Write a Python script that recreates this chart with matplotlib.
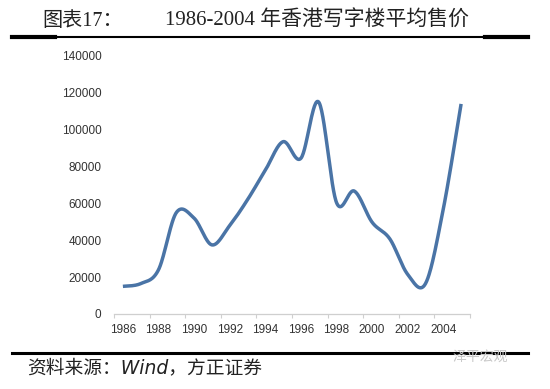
import numpy as np
import matplotlib
matplotlib.use("Agg")
import matplotlib.pyplot as plt

# 香港写字楼平均售价
years = list(range(1986, 2006))
prices = [15000, 16500, 24000, 55000, 52000, 37500, 48000, 62000, 78000, 93500,
          84500, 115000, 60500, 66700, 49800, 40700, 21500, 16500, 57000, 114000]
tick_labels = [str(y) for y in range(1986, 2005, 2)]
y_ticks = list(range(0, 140001, 20000))

title_left = "图表17："
title_main = "1986-2004 年香港写字楼平均售价"
source = "资料来源：Wind，方正证券"
watermark = "泽平宏观"


def smooth(xs, ys, n=30):
    # Excel-style smoothed line (Catmull-Rom through the points)
    xs = np.asarray(xs, float)
    ys = np.asarray(ys, float)
    px = np.concatenate([[xs[0]], xs, [xs[-1]]])
    py = np.concatenate([[ys[0]], ys, [ys[-1]]])
    ox, oy = [], []
    t = np.linspace(0, 1, n, endpoint=False)
    h00 = 2 * t**3 - 3 * t**2 + 1
    h10 = t**3 - 2 * t**2 + t
    h01 = -2 * t**3 + 3 * t**2
    h11 = t**3 - t**2
    for i in range(1, len(px) - 2):
        for p, o in ((px, ox), (py, oy)):
            m0 = (p[i + 1] - p[i - 1]) / 2
            m1 = (p[i + 2] - p[i]) / 2
            o.extend(h00 * p[i] + h10 * m0 + h01 * p[i + 1] + h11 * m1)
    ox.append(xs[-1])
    oy.append(ys[-1])
    return np.array(ox), np.array(oy)


fig = plt.figure(figsize=(5.5, 3.89), dpi=100)
fig.patch.set_facecolor("white")

ax = fig.add_axes([114 / 550, 1 - 314 / 389, 356 / 550, 258 / 389])
idx = np.arange(len(years))
sx, sy = smooth(idx, prices)
ax.plot(sx, sy, color="#4a74a6", lw=2.5, solid_capstyle="butt")

ax.set_xlim(-0.5, len(years) - 0.5)
ax.set_ylim(0, 140000)

ax.set_xticks(np.arange(-0.5, len(years), 2))
ax.set_xticklabels([])
ax.set_xticks(np.arange(0, len(years) - 1, 2), minor=True)
ax.set_xticklabels(tick_labels, minor=True)
ax.tick_params(axis="x", which="major", direction="out", length=3,
               color="#cfcfcf", width=0.8)
ax.tick_params(axis="x", which="minor", length=0, pad=7,
               labelsize=8.5, labelcolor="#333333")
ax.set_yticks(y_ticks)
ax.set_yticklabels([str(v) for v in y_ticks])
ax.tick_params(axis="y", length=0, pad=9, labelsize=8.5, labelcolor="#333333")
for lab in ax.get_xticklabels(minor=True) + ax.get_yticklabels():
    lab.set_fontfamily("Liberation Sans")

for s in ["top", "right", "left"]:
    ax.spines[s].set_visible(False)
ax.spines["bottom"].set_color("#cfcfcf")
ax.spines["bottom"].set_linewidth(0.9)

cjk = ["Liberation Serif", "Noto Sans CJK SC"]
fig.text(42 / 550, 1 - 21 / 389, title_left, fontsize=14.5, family=cjk,
         color="#222222", va="center", ha="left")
fig.text(165 / 550, 1 - 21 / 389, title_main, fontsize=15, family=cjk,
         color="#222222", va="center", ha="left")

# rules under title and above source
y1 = 1 - 37 / 389
fig.add_artist(plt.Line2D([12 / 550, 528 / 550], [y1, y1], color="black", lw=1.5))
fig.add_artist(plt.Line2D([12 / 550, 55 / 550], [y1, y1], color="black", lw=3))
fig.add_artist(plt.Line2D([485 / 550, 528 / 550], [y1, y1], color="black", lw=3))
y2 = 1 - 353 / 389
fig.add_artist(plt.Line2D([12 / 550, 528 / 550], [y2, y2], color="black", lw=2.2))

fig.text(27 / 550, 1 - 368 / 389, source, fontsize=13.5, style="italic",
         family=["DejaVu Sans", "Noto Sans CJK SC"], color="#222222",
         va="center", ha="left")
fig.text(453 / 550, 1 - 357 / 389, watermark, fontsize=10,
         family=["Noto Sans CJK SC"], color="#c8c8c8", va="center", ha="left")

fig.savefig("out.png", dpi=100, facecolor="white")
